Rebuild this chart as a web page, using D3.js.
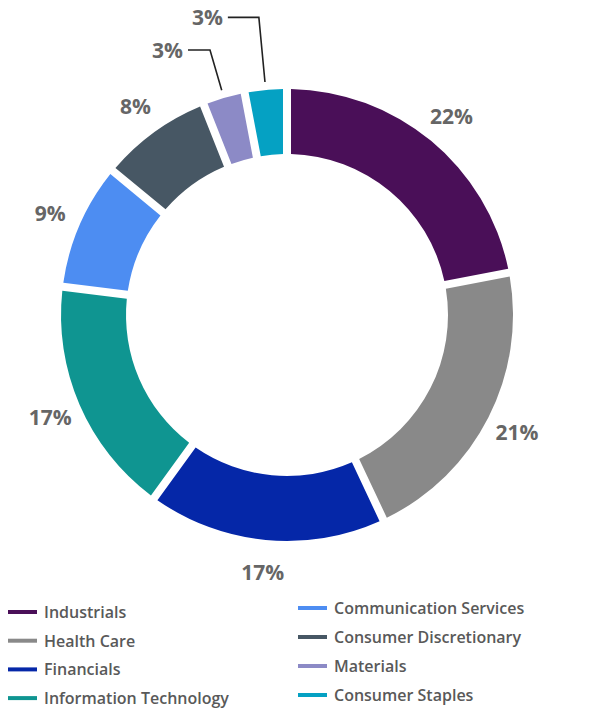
<!DOCTYPE html>
<html>
<head>
<meta charset="utf-8">
<script src="https://cdn.jsdelivr.net/npm/d3@7"></script>
<style>
  body { margin: 0; background: #fff; }
  svg { display: block; }
</style>
</head>
<body>
<svg id="chart" width="593" height="711"></svg>
<script>
// sector names, shares (%) and colours
const sectors = ["Industrials", "Health Care", "Financials", "Information Technology",
  "Communication Services", "Consumer Discretionary", "Materials", "Consumer Staples"];
const shares = [22, 21, 17, 17, 9, 8, 3, 3];
const colors = ["#4a0f58", "#898989", "#0527a8", "#0f9591", "#4d8df2", "#475764", "#8c8ac6", "#05a1c3"];

// legend layout: left column 4 items, right column 4 items
const legendCols = [
  {x: 8, y0: 612, step: 28.7},
  {x: 298, y0: 608, step: 29}
];

// leader lines for the small slices (elbow radius, horizontal run)
const leaders = {"Materials": {r: 276, run: 22}, "Consumer Staples": {r: 299, run: 31}};

const svg = d3.select("#chart");
const cx = 287, cy = 315;
const outerR = 226, innerR = 161, labelR = 258;

const data = sectors.map((s, i) => ({name: s, value: shares[i], color: colors[i]}));

const pie = d3.pie().sort(null).value(d => d.value);
const arcs = pie(data);

const arc = d3.arc()
  .innerRadius(innerR)
  .outerRadius(outerR)
  .padAngle(8 / outerR)
  .padRadius(outerR);

const labelArc = d3.arc().innerRadius(labelR).outerRadius(labelR);

const g = svg.append("g").attr("transform", `translate(${cx},${cy})`);

g.selectAll("path.slice")
  .data(arcs)
  .enter().append("path")
  .attr("class", "slice")
  .attr("d", arc)
  .attr("fill", d => d.data.color);

const polar = (a, r) => [Math.sin(a) * r, -Math.cos(a) * r];

// labels
arcs.forEach(d => {
  const mid = (d.startAngle + d.endAngle) / 2;
  const lead = leaders[d.data.name];
  let x, y, anchor = "middle";
  if (lead) {
    const p0 = polar(mid, 234);
    const p1 = polar(mid, lead.r);
    const p2 = [p1[0] - lead.run, p1[1]];
    g.append("path")
      .attr("d", d3.line()([p0, p1, p2]))
      .attr("fill", "none")
      .attr("stroke", "#222")
      .attr("stroke-width", 1.6);
    x = p2[0] - 5; y = p2[1]; anchor = "end";
  } else {
    [x, y] = labelArc.centroid(d);
  }
  g.append("text")
    .attr("x", x)
    .attr("y", y)
    .attr("text-anchor", anchor)
    .attr("dominant-baseline", "central")
    .style("font-family", "'Open Sans', sans-serif")
    .style("font-weight", "bold")
    .style("font-size", "21px")
    .style("fill", "#666")
    .text(d.data.value + "%");
});

// legend
const legend = svg.append("g");
data.forEach((d, i) => {
  const col = legendCols[Math.floor(i / 4)];
  const y = col.y0 + (i % 4) * col.step;
  legend.append("line")
    .attr("x1", col.x).attr("x2", col.x + 29)
    .attr("y1", y).attr("y2", y)
    .attr("stroke", d.color)
    .attr("stroke-width", 4);
  legend.append("text")
    .attr("x", col.x + 36)
    .attr("y", y)
    .attr("dominant-baseline", "central")
    .style("font-family", "'Open Sans', sans-serif")
    .style("font-weight", "600")
    .style("font-size", "16px")
    .style("fill", "#595959")
    .text(d.name);
});
</script>
</body>
</html>
